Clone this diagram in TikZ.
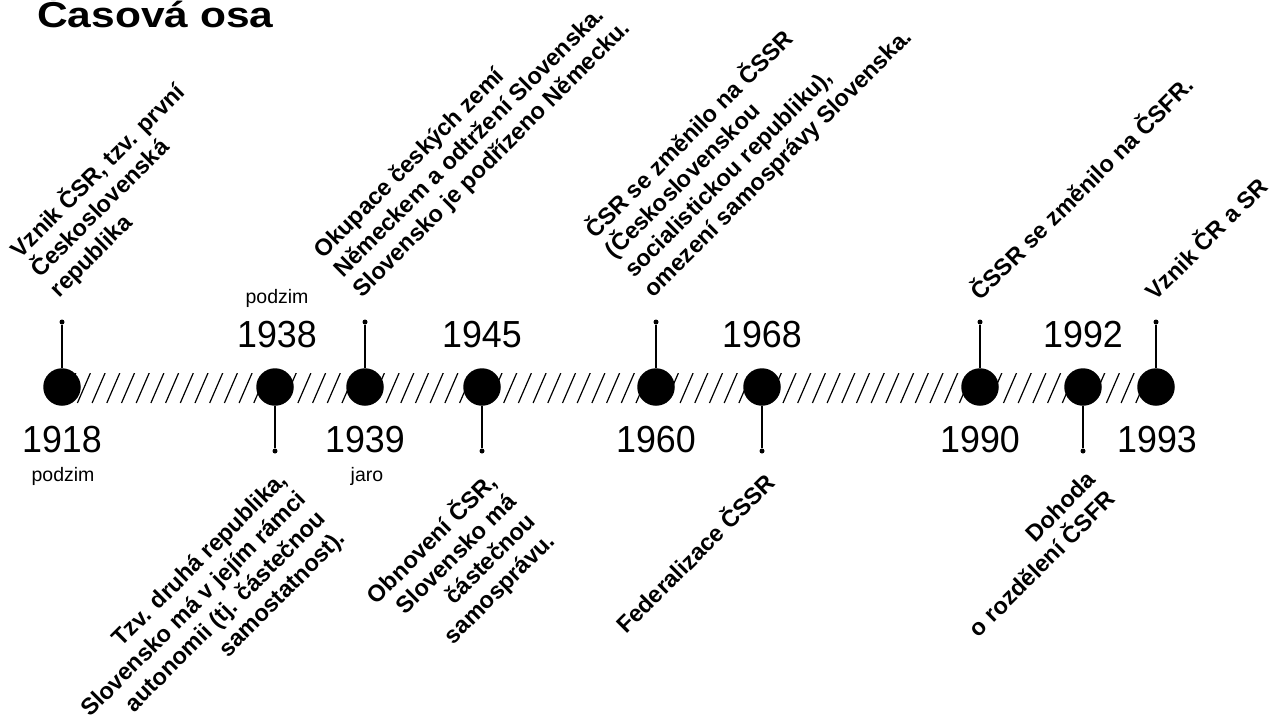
\documentclass[tikz,border=0pt]{standalone}
\usepackage{fontspec}
\setmainfont{Liberation Sans}
\newfontfamily\yearfont[FakeStretch=0.95]{Liberation Sans}
\newfontfamily\titlefont[FakeStretch=1.18]{Liberation Sans}
\tikzset{
  x=1pt, y=-1pt,
  title_n/.style = {font=\titlefont\bfseries\fontsize{36}{40}\selectfont, inner sep=0pt, anchor=base west},
  yr_n/.style = {font=\yearfont\fontsize{37.7}{40}\selectfont, inner sep=0pt, anchor=base},
  season_n/.style = {font=\fontsize{19.5}{22}\selectfont, inner sep=0pt, anchor=base},
  ev_txt/.style = {font=\bfseries\fontsize{23.5}{27.5}\selectfont, inner sep=0pt, rotate=45},
  ev_up/.style = {ev_txt, anchor=south west, align=left},
  ev_dn/.style = {ev_txt, anchor=north east, align=right},
  dot_n/.style = {circle, fill=black, inner sep=0pt, minimum size=37.5pt},
  pin_n/.style = {circle, fill=black, inner sep=0pt, minimum size=5pt},
  stem/.style = {line width=1.3pt},
  hatch/.style = {line width=1.2pt}
}

\begin{document}
\begin{tikzpicture}
	\useasboundingbox (0,0) rectangle (1271,716);

	% nadpis
	\node [title_n] (title) at (37,27) {Časová osa};

	% srafovana osa
	\begin{scope}
		\clip (63,373) rectangle (1157,403);
		\foreach \hx in {48,62.7,...,1170}
			\draw [hatch] (\hx,403) -- (\hx+13,373);
	\end{scope}

	% body na ose
	\node [dot_n] (c1918) at (62,387) {};
	\node [dot_n] (c1938) at (275,387) {};
	\node [dot_n] (c1939) at (365,387) {};
	\node [dot_n] (c1945) at (482,387) {};
	\node [dot_n] (c1960) at (656,387) {};
	\node [dot_n] (c1968) at (762,387) {};
	\node [dot_n] (c1990) at (980,387) {};
	\node [dot_n] (c1992) at (1083,387) {};
	\node [dot_n] (c1993) at (1156,387) {};

	% nozicky nahoru
	\node [pin_n] (p1918) at (62,322) {};
	\node [pin_n] (p1939) at (365,322) {};
	\node [pin_n] (p1960) at (656,322) {};
	\node [pin_n] (p1990) at (980,322) {};
	\node [pin_n] (p1993) at (1156,322) {};
	% nozicky dolu
	\node [pin_n] (p1938) at (275,451) {};
	\node [pin_n] (p1945) at (482,451) {};
	\node [pin_n] (p1968) at (762,451) {};
	\node [pin_n] (p1992) at (1083,451) {};

	\draw [stem] (p1918) -- (c1918);
	\draw [stem] (p1939) -- (c1939);
	\draw [stem] (p1960) -- (c1960);
	\draw [stem] (p1990) -- (c1990);
	\draw [stem] (p1993) -- (c1993);
	\draw [stem] (p1938) -- (c1938);
	\draw [stem] (p1945) -- (c1945);
	\draw [stem] (p1968) -- (c1968);
	\draw [stem] (p1992) -- (c1992);

	% roky
	\node [yr_n] (y1918) at (62,452) {1918};
	\node [yr_n] (y1938) at (277,347) {1938};
	\node [yr_n] (y1939) at (365,452) {1939};
	\node [yr_n] (y1945) at (482,347) {1945};
	\node [yr_n] (y1960) at (656,452) {1960};
	\node [yr_n] (y1968) at (762,347) {1968};
	\node [yr_n] (y1990) at (980,452) {1990};
	\node [yr_n] (y1992) at (1083,347) {1992};
	\node [yr_n] (y1993) at (1157,452) {1993};

	\node [season_n] (s1918) at (63,481) {podzim};
	\node [season_n] (s1938) at (277,303) {podzim};
	\node [season_n] (s1939) at (367,481) {jaro};

	% udalosti nahore
	\node [ev_up] (l1918) at (63,302) {Vznik ČSR, tzv. první\\Československá\\republika};
	\node [ev_up] (l1939) at (366,302) {Okupace českých zemí\\Německem a odtržení Slovenska.\\Slovensko je podřízeno Německu.};
	\node [ev_up] (l1960) at (657,302) {ČSR se změnilo na ČSSR\\(Československou\\socialistickou republiku),\\omezení samosprávy Slovenska.};
	\node [ev_up] (l1990) at (981,302) {ČSSR se změnilo na ČSFR.};
	\node [ev_up] (l1993) at (1156,302) {Vznik ČR a SR};

	% udalosti dole
	\node [ev_dn] (l1938) at (276,469) {Tzv. druhá republika,\\Slovensko má v jejím rámci\\autonomii (tj. částečnou\\samostatnost).};
	\node [ev_dn] (l1945) at (483,469) {Obnovení ČSR,\\Slovensko má\\částečnou\\samosprávu.};
	\node [ev_dn] (l1968) at (762,469) {Federalizace ČSSR};
	\node [ev_dn] (l1992) at (1085,469) {Dohoda\\o rozdělení ČSFR};
\end{tikzpicture}
\end{document}
